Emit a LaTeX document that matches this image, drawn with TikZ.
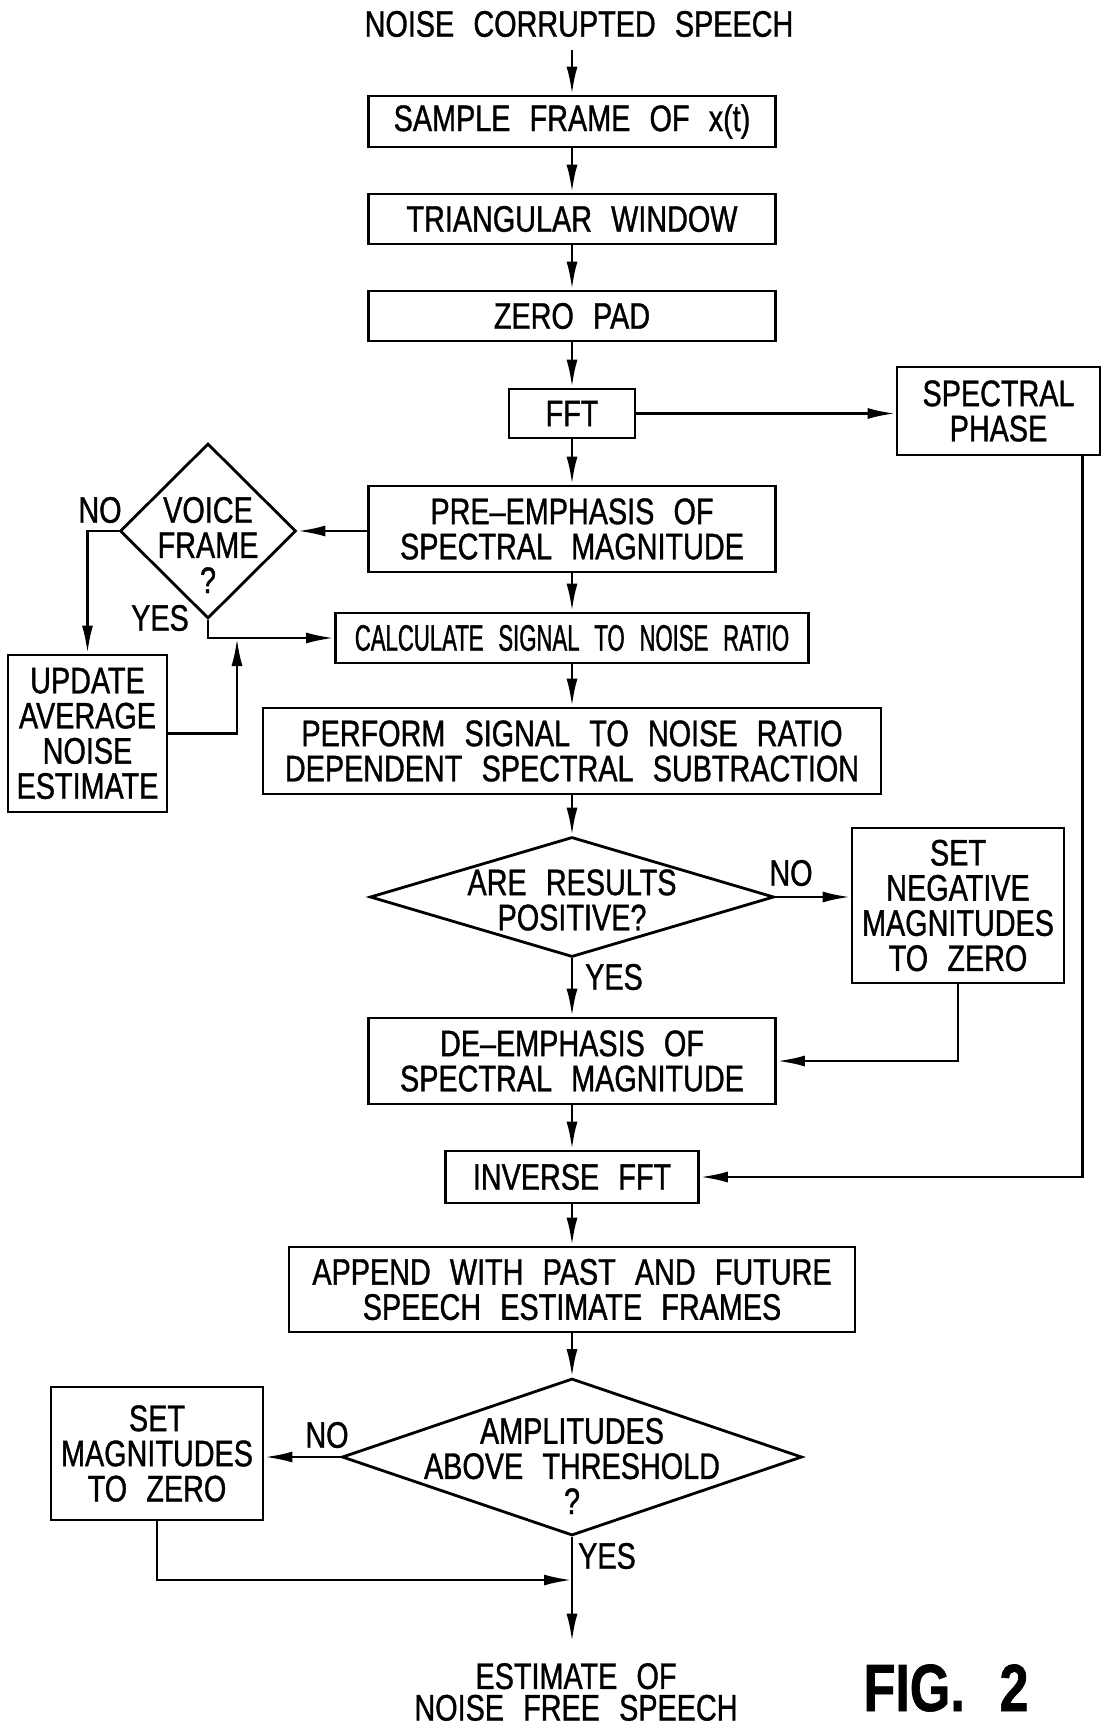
\documentclass[tikz,border=0pt]{standalone}
\usepackage{fontspec}
\setmainfont[FakeStretch=0.78,WordSpace=2.4,FakeBold=1]{Liberation Sans}
\newfontfamily\narrowfont[FakeStretch=0.6,WordSpace=2.4,FakeBold=1]{Liberation Sans}
\usetikzlibrary{shapes.geometric,arrows.meta}

\begin{document}
\begin{tikzpicture}[
    line width=0.8pt,
    every node/.style={font=\fontsize{10.5}{10}\selectfont, align=center},
    block/.style={draw, inner sep=0pt, minimum height=0.5cm},
    decision/.style={draw, diamond, inner sep=0pt},
    answer/.style={inner sep=0pt},
    flow/.style={-{Latex[length=2.8mm,width=1.1mm]}},
    figlabel/.style={font=\fontsize{19}{19}\selectfont\bfseries}
]
\useasboundingbox (0,0) rectangle (11.03,-17.24);

% Input and first steps
\node (title) at (5.79,-0.24) {NOISE CORRUPTED SPEECH};
\node[block, minimum width=4.07cm, minimum height=0.51cm] (sample) at (5.72,-1.215) {SAMPLE FRAME OF x(t)};
\node[block, minimum width=4.07cm] (triwin) at (5.72,-2.19) {TRIANGULAR WINDOW};
\node[block, minimum width=4.07cm] (zeropad) at (5.72,-3.16) {ZERO PAD};
\node[block, minimum width=1.26cm, minimum height=0.49cm] (fft) at (5.72,-4.135) {FFT};
\node[block, minimum width=2.03cm, minimum height=0.88cm] (phase) at (9.985,-4.11) {SPECTRAL\\PHASE};
\node[block, minimum width=4.07cm, minimum height=0.86cm] (preemph) at (5.72,-5.29) {PRE--EMPHASIS OF\\SPECTRAL MAGNITUDE};

% Voice frame test and noise estimate
\node[decision, minimum width=1.76cm, minimum height=1.75cm,
      label={[yshift=-1.4mm]center:VOICE\\FRAME\\?}] (voice) at (2.08,-5.31) {};
\node[answer] (voiceno) at (1.00,-5.10) {NO};
\node[answer] (voiceyes) at (1.60,-6.18) {YES};
\node[block, minimum width=1.59cm, minimum height=1.57cm] (update) at (0.875,-7.335) {UPDATE\\AVERAGE\\NOISE\\ESTIMATE};
\node[block, minimum width=4.73cm] (calcsnr) at (5.72,-6.38) {\narrowfont CALCULATE SIGNAL TO NOISE RATIO};
\coordinate (merge) at (2.37,-6.38);

% Spectral subtraction
\node[block, minimum width=6.18cm, minimum height=0.86cm] (subtract) at (5.72,-7.51) {PERFORM SIGNAL TO NOISE RATIO\\DEPENDENT SPECTRAL SUBTRACTION};
\node[decision, minimum width=4.04cm, minimum height=1.20cm,
      label={[yshift=-0.3mm]center:ARE RESULTS\\POSITIVE?}] (positive) at (5.72,-8.97) {};
\node[answer] (posno) at (7.91,-8.73) {NO};
\node[answer] (posyes) at (6.14,-9.77) {YES};
\node[block, minimum width=2.12cm, minimum height=1.55cm] (setneg) at (9.58,-9.055) {SET\\NEGATIVE\\MAGNITUDES\\TO ZERO};
\node[block, minimum width=4.07cm, minimum height=0.86cm] (deemph) at (5.72,-10.61) {DE--EMPHASIS OF\\SPECTRAL MAGNITUDE};

% Back to the time domain
\node[block, minimum width=2.53cm, minimum height=0.52cm] (ifft) at (5.72,-11.77) {INVERSE FFT};
\node[block, minimum width=5.66cm, minimum height=0.85cm] (append) at (5.72,-12.895) {APPEND WITH PAST AND FUTURE\\SPEECH ESTIMATE FRAMES};

% Threshold test
\node[decision, minimum width=4.60cm, minimum height=1.57cm,
      label={[yshift=-0.9mm]center:AMPLITUDES\\ABOVE THRESHOLD\\?}] (threshold) at (5.72,-14.57) {};
\node[answer] (thrno) at (3.27,-14.35) {NO};
\node[answer] (thryes) at (6.07,-15.56) {YES};
\node[block, minimum width=2.12cm, minimum height=1.33cm] (setmag) at (1.57,-14.535) {SET\\MAGNITUDES\\TO ZERO};
\coordinate (join) at (5.72,-15.80);

% Output
\node[inner sep=2mm, font=\fontsize{10.5}{9}\selectfont] (estimate) at (5.76,-16.92) {ESTIMATE OF\\NOISE FREE SPEECH};
\node[figlabel] (fig) at (9.46,-16.88) {FIG. 2};

% Main flow
\draw[flow] (title.south -| sample) -- (sample);
\foreach \from/\to in {sample/triwin, triwin/zeropad, zeropad/fft, fft/preemph,
    preemph/calcsnr, calcsnr/subtract, subtract/positive, positive/deemph,
    deemph/ifft, ifft/append, append/threshold}
    \draw[flow] (\from) -- (\to);
\draw[flow] (threshold) -- (threshold |- estimate.north);

% Side branches
\draw[flow] (fft) -- (fft -| phase.west);
\draw[flow] ([xshift=-1.9mm]phase.south east) |- (ifft);
\draw[flow] (preemph.west |- voice) -- (voice);
\draw[flow] (voice) -| (update);
\draw[flow] (voice) |- (calcsnr);
\draw[flow] (update) -| (merge);
\draw[flow] (positive) -- (positive -| setneg.west);
\draw[flow] (setneg) |- (deemph);
\draw[flow] (threshold) -- (threshold -| setmag.east);
\draw[flow] (setmag) |- (join);

\end{tikzpicture}
\end{document}
